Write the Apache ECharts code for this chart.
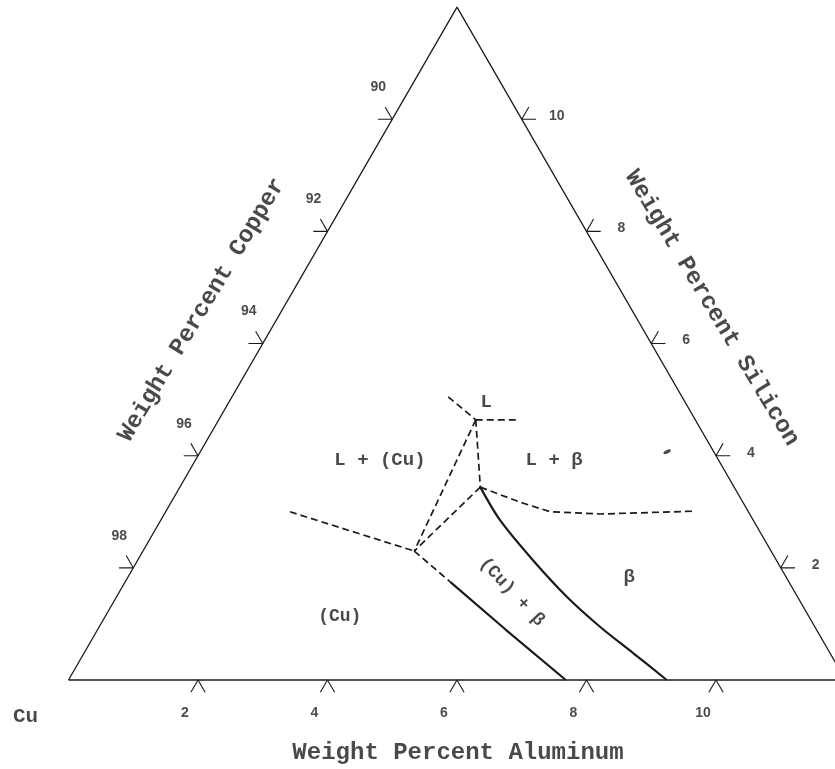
<!DOCTYPE html>
<html>
<head>
<meta charset="utf-8">
<title>Cu-Al-Si</title>
<script src="https://cdn.jsdelivr.net/npm/echarts@6/dist/echarts.min.js"></script>
<style>
  html, body { margin: 0; padding: 0; background: #fff; }
  #main { width: 835px; height: 769px; }
</style>
</head>
<body>
<div id="main"></div>
<script>
// compositions are [wt% Al, wt% Si], Cu is the rest
var alTicks = [2, 4, 6, 8, 10];
var siTicks = [2, 4, 6, 8, 10];
var cuTicks = [98, 96, 94, 92, 90];
var maxSolute = 12;

var lStubLeft = [[3.34, 5.05], [3.97, 4.64]];
var lStubRight = [[3.97, 4.64], [4.61, 4.64]];
var lToLower = [[3.97, 4.64], [4.19, 2.30]];
var lToMiddle = [[3.97, 4.64], [4.64, 3.44]];
var middleToLower = [[4.64, 3.44], [4.19, 2.30]];
var cuLiquidus = [[1.92, 3.00], [4.19, 2.30]];
var cuSolvusDashed = [[4.19, 2.30], [5.02, 1.75]];
var cuSolvus = [[5.02, 1.75], [6.30, 0.90], [7.68, 0]];
var betaSolvus = [[4.64, 3.44], [5.24, 2.85], [6.10, 2.14], [6.96, 1.48], [7.74, 0.945], [8.48, 0.48], [9.24, 0]];
var betaLiquidus = [[4.64, 3.44], [5.39, 3.17], [5.94, 3.00], [6.73, 2.96], [8.14, 3.01]];

var phaseLabels = [
  {name: 'L', at: [3.97, 4.96], size: 19, rotate: 0},
  {name: 'L + (Cu)', at: [2.85, 3.92], size: 19, rotate: 0},
  {name: 'L + β', at: [5.54, 3.92], size: 19, rotate: 0},
  {name: 'β', at: [7.74, 1.84], size: 19, rotate: 0},
  {name: '(Cu)', at: [3.62, 1.14], size: 18, rotate: 0},
  {name: '(Cu) + β', at: [6.06, 1.57], size: 18, rotate: -47}
];
var inkSpot = [7.21, 4.07];

var R3 = Math.sqrt(3) / 2;
function xy(p) { return [p[0] + p[1] / 2, p[1] * R3]; }
function path(pts) { return pts.map(xy); }

var ink = '#1b1b1b';
var monoFont = '"Liberation Mono", "DejaVu Sans Mono", monospace';
var series = [];

function addLine(pts, width, dashed) {
  series.push({
    type: 'line', data: path(pts), showSymbol: false, silent: true, smooth: false,
    lineStyle: { color: ink, width: width, type: dashed ? [7, 4] : 'solid' },
    z: 3
  });
}

// frame
addLine([[0, 0], [maxSolute, 0], [0, maxSolute], [0, 0]], 1.3, false);

// tick marks: short strokes parallel to the other two edges
var tl = 0.22;
function addTick(p, d1, d2) {
  var c = xy(p);
  series.push({
    type: 'line', showSymbol: false, silent: true,
    data: [[c[0] + d1[0] * tl, c[1] + d1[1] * tl], c, [c[0] + d2[0] * tl, c[1] + d2[1] * tl]],
    lineStyle: { color: ink, width: 1.1 }
  });
}
alTicks.forEach(function (v) { addTick([v, 0], [-0.5, -R3], [0.5, -R3]); });
cuTicks.forEach(function (v) { addTick([0, 100 - v], [-1, 0], [-0.5, R3]); });
siTicks.forEach(function (v) { addTick([maxSolute - v, v], [1, 0], [0.5, R3]); });

// phase boundaries
addLine(lStubLeft, 1.7, true);
addLine(lStubRight, 1.7, true);
addLine(lToLower, 1.7, true);
addLine(lToMiddle, 1.7, true);
addLine(middleToLower, 1.7, true);
addLine(cuLiquidus, 1.7, true);
addLine(cuSolvusDashed, 1.7, true);
addLine(betaLiquidus, 1.7, true);
addLine(cuSolvus, 2.2, false);
series.push({
  type: 'line', data: path(betaSolvus), showSymbol: false, silent: true, smooth: 0.3,
  lineStyle: { color: ink, width: 2.2 }
});

// text
function textSeries(items, style) {
  series.push({
    type: 'scatter', silent: true, symbolSize: 1,
    itemStyle: { color: 'rgba(0,0,0,0)' },
    data: items.map(function (it) {
      return {
        value: it.value, name: it.name,
        label: Object.assign({
          show: true, position: 'inside', formatter: it.name,
          offset: it.offset || [0, 0], rotate: it.rotate || 0,
          color: ink, fontSize: it.size || 14
        }, style)
      };
    }),
    z: 5
  });
}

var sans = { fontFamily: '"Liberation Sans", Arial, sans-serif', fontWeight: 'bold' };
textSeries(alTicks.map(function (v) {
  return { value: xy([v, 0]), name: String(v), offset: [-13, 33], size: 14 };
}), sans);
textSeries(cuTicks.map(function (v) {
  return { value: xy([0, 100 - v]), name: String(v), offset: [-14, -32], size: 14 };
}), sans);
textSeries(siTicks.map(function (v) {
  return { value: xy([maxSolute - v, v]), name: String(v), offset: [35, -3], size: 14 };
}), sans);

textSeries(phaseLabels.map(function (l) {
  return { value: xy(l.at), name: l.name, size: l.size, rotate: l.rotate };
}), { fontFamily: monoFont, fontWeight: 'bold' });

textSeries([
  { value: xy([0, 0]), name: 'Cu', offset: [-43, 37], size: 21 },
  { value: xy([6, 0]), name: 'Weight Percent Aluminum', offset: [1, 73], size: 24 },
  { value: xy([-1.24, 6.60]), name: 'Weight Percent Copper', size: 24, rotate: 59 },
  { value: xy([6.62, 6.63]), name: 'Weight Percent Silicon', size: 24, rotate: -59 }
], { fontFamily: monoFont, fontWeight: 'bold' });

series.push({
  type: 'scatter', silent: true, symbol: 'circle', symbolSize: [8, 3.5], symbolRotate: 25,
  itemStyle: { color: ink }, data: [xy(inkSpot)]
});

var chart = echarts.init(document.getElementById('main'), null, { renderer: 'canvas' });
chart.setOption({
  backgroundColor: '#fff',
  animation: false,
  grid: { left: 0, right: 0, top: 0, bottom: 0 },
  xAxis: { type: 'value', min: -68.5 / 64.75, max: (835 - 68.5) / 64.75, show: false },
  yAxis: { type: 'value', min: -89 / 64.75, max: 680 / 64.75, show: false },
  series: series
});
</script>
</body>
</html>
